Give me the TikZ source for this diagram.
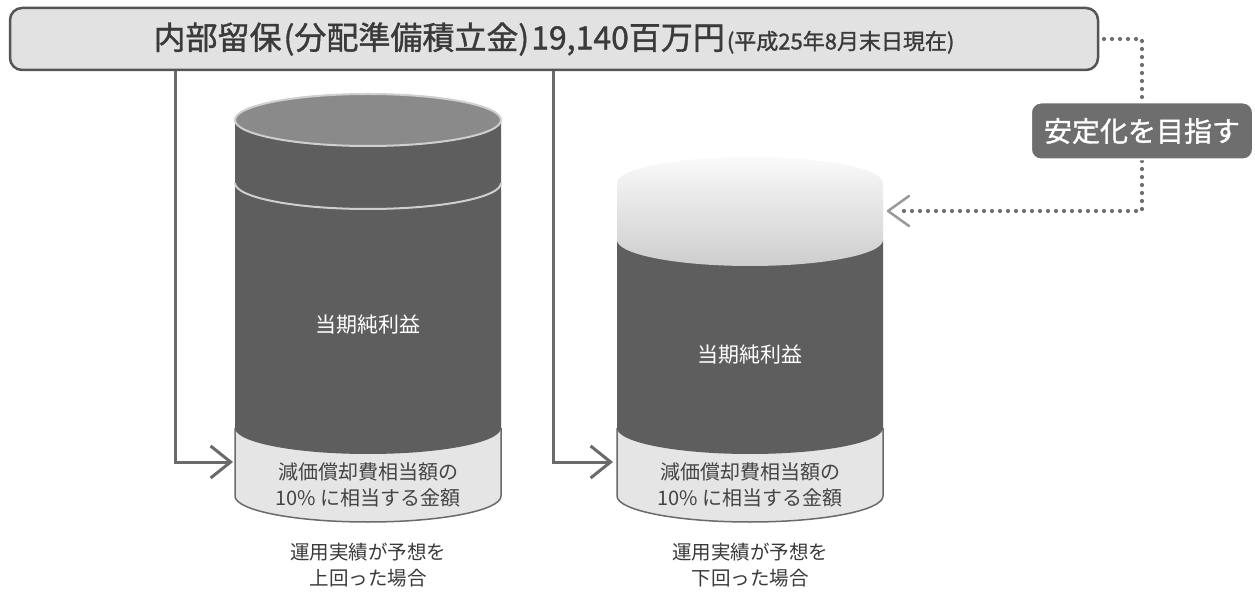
\documentclass[tikz,border=0pt]{standalone}
\usepackage{fontspec}
\setmainfont{Noto Sans CJK JP}
\newfontfamily\boldcjk[FakeBold=1.2]{Noto Sans CJK JP}
\usetikzlibrary{arrows.meta}
\definecolor{boxfill}{HTML}{E2E2E2}
\definecolor{boxdraw}{HTML}{555555}
\definecolor{titlec}{HTML}{3A3A3A}
\definecolor{connc}{HTML}{6A6A6A}
\definecolor{darkc}{HTML}{5E5E5E}
\definecolor{topc}{HTML}{8A8A8A}
\definecolor{rimc}{HTML}{CFCFCF}
\definecolor{lightc}{HTML}{E5E5E5}
\definecolor{rimdark}{HTML}{6A6A6A}
\definecolor{lowtxtc}{HTML}{444444}
\definecolor{labelc}{HTML}{6E6E6E}
\definecolor{dotcol}{HTML}{6F6F6F}
\definecolor{arrowc}{HTML}{999999}
\definecolor{capTop}{HTML}{FAFAFA}
\definecolor{capBot}{HTML}{CDCDCD}
\begin{document}
\begin{tikzpicture}[x=1pt,y=1pt,
  conn/.style={draw=connc, line width=3pt, -{Straight Barb[length=20pt,width=32pt]}},
  dotline/.style={draw=dotcol, line width=4.2pt, line cap=round, dash pattern=on 0pt off 8pt},
  topbox/.style={draw=boxdraw, fill=boxfill, line width=2.5pt, rounded corners=12pt, text=titlec,
    minimum width=1088pt, minimum height=62pt, inner sep=0pt},
  bodytxt/.style={text=white, font=\fontsize{21}{26}\selectfont},
  lowtxt/.style={text=lowtxtc, align=center, font=\fontsize{20}{26}\selectfont},
  captxt/.style={text=titlec, align=center, font=\fontsize{19.5}{26}\selectfont},
  labelbox/.style={fill=labelc, draw=white, line width=2pt, rounded corners=10pt, text=white,
    minimum width=222pt, minimum height=57pt, inner sep=0pt, font=\boldcjk\fontsize{28}{32}\selectfont}
]
\useasboundingbox (0,0) rectangle (1255,592);
\fill[white] (0,0) rectangle (1255,592);

% ---- left cylinder ----
\fill[lightc] (235,164) -- (235,96) arc[start angle=180,end angle=360,x radius=133,y radius=26] -- (501,164) -- cycle;
\draw[rimdark, line width=1.5pt] (235,164) -- (235,96) arc[start angle=180,end angle=360,x radius=133,y radius=26] -- (501,164);
\fill[darkc] (235,472) -- (235,164) arc[start angle=180,end angle=360,x radius=133,y radius=26] -- (501,472) -- cycle;
\filldraw[fill=topc, draw=rimc, line width=2pt] (368,472) ellipse [x radius=133, y radius=26];
\draw[rimc, line width=2pt] (235,409) arc[start angle=180,end angle=360,x radius=133,y radius=26];

% ---- right cylinder ----
\fill[lightc] (617,164) -- (617,96) arc[start angle=180,end angle=360,x radius=133,y radius=26] -- (883,164) -- cycle;
\draw[rimdark, line width=1.5pt] (617,164) -- (617,96) arc[start angle=180,end angle=360,x radius=133,y radius=26] -- (883,164);
\fill[darkc] (617,352) -- (617,164) arc[start angle=180,end angle=360,x radius=133,y radius=26] -- (883,352) -- cycle;
\shade[top color=capTop, bottom color=capBot] (617,409) -- (617,352) arc[start angle=180,end angle=360,x radius=133,y radius=26] -- (883,409) arc[start angle=0,end angle=180,x radius=133,y radius=26] -- cycle;

% ---- texts in cylinders ----
\node[bodytxt] (n1) at (368,267) {当期純利益};
\node[bodytxt] (n2) at (750,237) {当期純利益};
\node[lowtxt] (b1) at (368,107) {減価償却費相当額の\\10\% に相当する金額};
\node[lowtxt] (b2) at (750,107) {減価償却費相当額の\\10\% に相当する金額};
\node[captxt] (c1) at (368,27) {運用実績が予想を\\上回った場合};
\node[captxt] (c2) at (750,27) {運用実績が予想を\\下回った場合};

% ---- top box ----
\node[topbox] (top) at (554,553) {\boldcjk\fontsize{32}{36}\selectfont 内部留保\hspace{2pt}(分配準備積立金)\hspace{2pt}19,140百万円\fontsize{22}{26}\selectfont\hspace{2pt}(平成25年8月末日現在)};

% ---- solid connectors ----
\coordinate (k1) at (175,130);
\coordinate (t1) at (233,130);
\coordinate (k2) at (553,130);
\coordinate (t2) at (613,130);
\draw[conn] (top.south -| k1) -- (k1) -- (t1);
\draw[conn] (top.south -| k2) -- (k2) -- (t2);

% ---- dotted connector ----
\coordinate (d0) at (1104,553);
\coordinate (d1) at (1142,553);
\coordinate (d2) at (1142,381);
\coordinate (t3) at (888,381);
\draw[dotline] (d0) -- (d1) -- (d2) -- ([xshift=14pt]t3);
\draw[arrowc, line width=2.5pt, line cap=round, line join=round] ([shift={(21,15)}]t3) -- (t3) -- ([shift={(21,-15)}]t3);
\node[labelbox] (lab) at (1142,461) {安定化を目指す};
\end{tikzpicture}
\end{document}
